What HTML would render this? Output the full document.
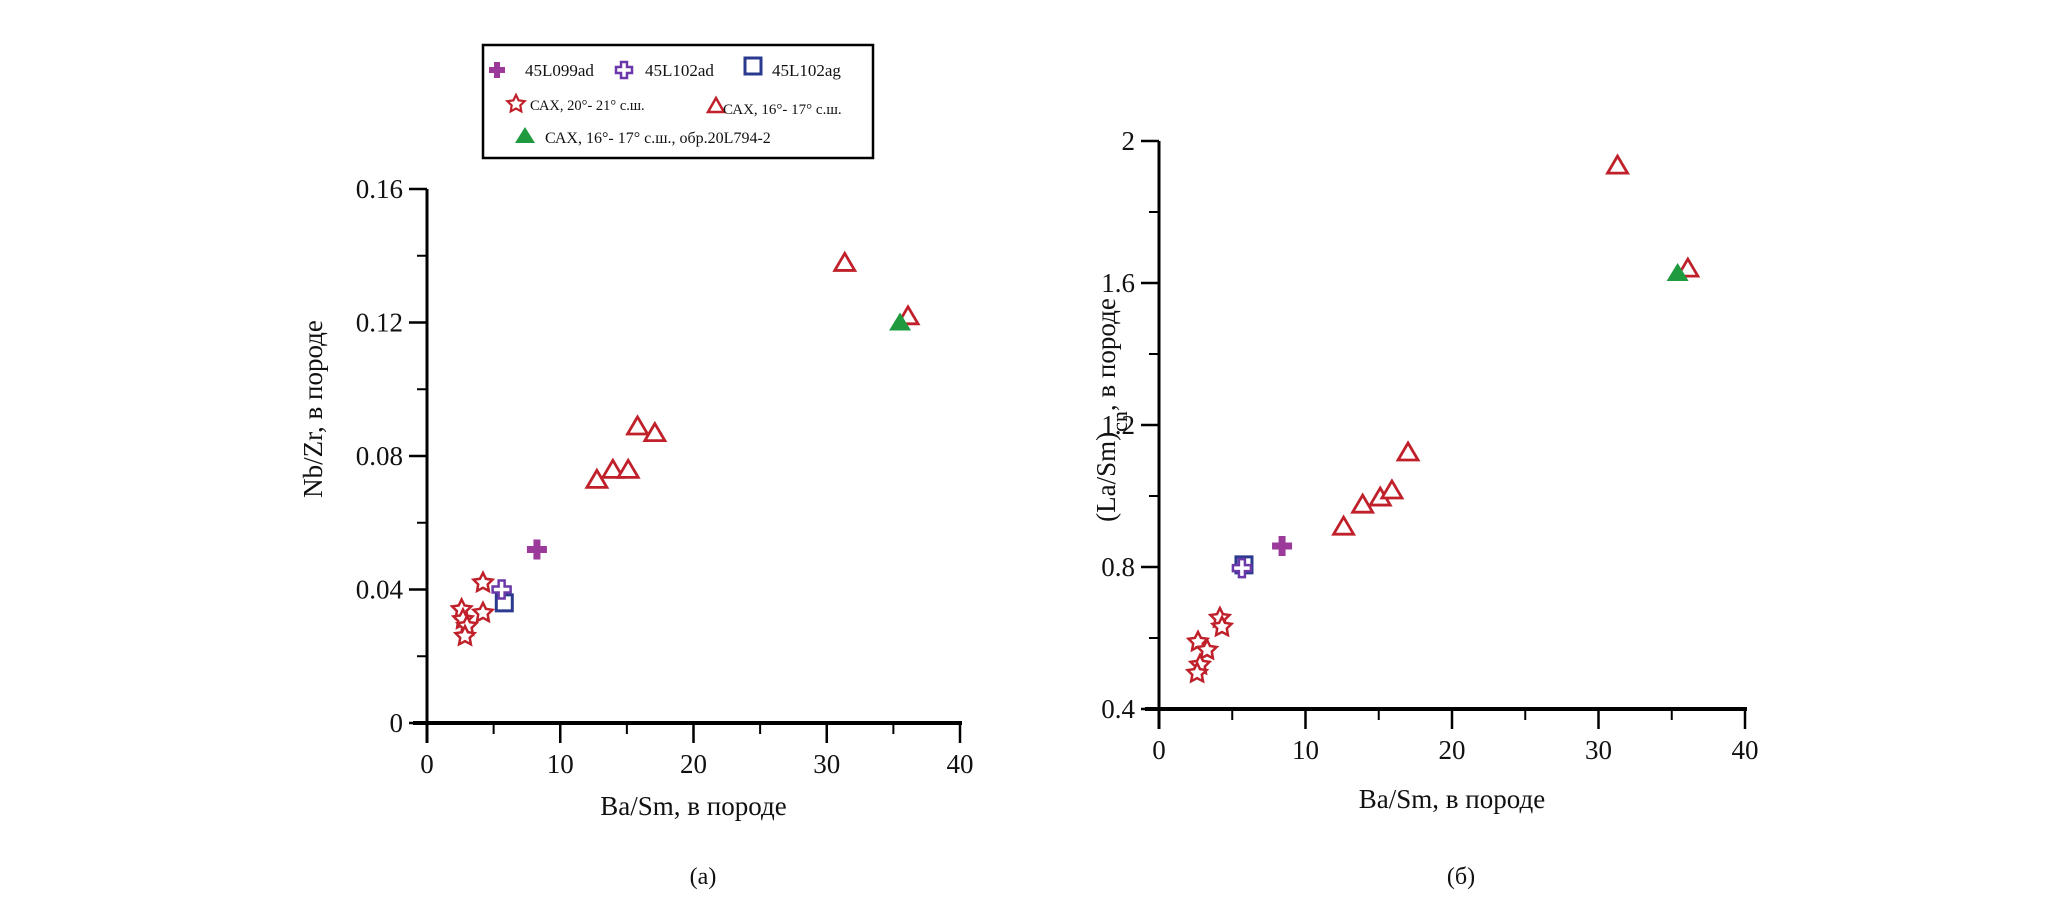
<!DOCTYPE html>
<html><head><meta charset="utf-8"><style>
html,body{margin:0;padding:0;background:#fff;}
svg{display:block;}
text{font-family:"Liberation Serif","DejaVu Serif",serif;fill:#111;}
</style></head><body>
<svg id="chart" width="2067" height="904" viewBox="0 0 2067 904" xmlns="http://www.w3.org/2000/svg">
<g id="legend">
<rect x="483" y="45" width="390" height="113" fill="#fff" stroke="#000" stroke-width="2.5"/>
<g><path d="M494,62h6v5h5v6h-5v5h-6v-5h-5v-6h5z" fill="#9b3a9b"/><text x="525" y="76" font-size="17">45L099ad</text></g>
<g><path d="M621,62h6v5h5v6h-5v5h-6v-5h-5v-6h5z" fill="#fff" stroke="#6a38a8" stroke-width="2.5"/><text x="645" y="76" font-size="17">45L102ad</text></g>
<g><rect x="745" y="58" width="16" height="16" fill="none" stroke="#2a3a8f" stroke-width="3"/><text x="772" y="76" font-size="17">45L102ag</text></g>
<g><path id="lstar" d="" fill="#fff" stroke="#c0202a" stroke-width="2.2"/><text x="530" y="110" font-size="14.5">САХ, 20°- 21° с.ш.</text></g>
<g><path d="M716,98l-8,14h16z" fill="#fff" stroke="#c0202a" stroke-width="2.5"/><text x="723" y="114" font-size="15">САХ, 16°- 17° с.ш.</text></g>
<g><path d="M525,127l-10,16h20z" fill="#1f9a3f"/><text x="545" y="143" font-size="16">САХ, 16°- 17° с.ш., обр.20L794-2</text></g>
</g>
<g id="pa"></g>
<g id="pb"></g>
<text x="703" y="884" font-size="24" text-anchor="middle">(a)</text>
<text x="1461" y="884" font-size="24" text-anchor="middle">(б)</text>
</svg>
<script>
// Panel (a): Nb/Zr vs Ba/Sm
const aStarX=[4.2,4.2,2.6,2.7,3.0,2.85];
const aStarY=[0.042,0.033,0.034,0.031,0.029,0.026];
const aTriX=[12.75,13.95,15.1,15.8,17.1,31.35,36.1];
const aTriY=[0.073,0.076,0.076,0.089,0.087,0.138,0.122];
const aGreenX=[35.5];const aGreenY=[0.120];
const aCrossX=[8.25];const aCrossY=[0.052];
const aHCrossX=[5.6];const aHCrossY=[0.040];
const aSqX=[5.8];const aSqY=[0.036];
const aYTicks=["0","0.04","0.08","0.12","0.16"];
const aYTickVals=[0,0.04,0.08,0.12,0.16];
// Panel (б): (La/Sm)cn vs Ba/Sm
const bStarX=[4.16,4.3,2.66,3.28,2.8,2.6];
const bStarY=[0.656,0.631,0.589,0.566,0.524,0.501];
const bTriX=[12.6,13.9,15.1,15.9,17.0,31.3,36.1];
const bTriY=[0.915,0.977,0.997,1.017,1.124,1.932,1.642];
const bGreenX=[35.4];const bGreenY=[1.628];
const bCrossX=[8.4];const bCrossY=[0.859];
const bHCrossX=[5.66];const bHCrossY=[0.797];
const bSqX=[5.8];const bSqY=[0.806];
const bYTicks=["0.4","0.8","1.2","1.6","2"];
const bYTickVals=[0.4,0.8,1.2,1.6,2.0];
const xTicks=["0","10","20","30","40"];
const xTickVals=[0,10,20,30,40];

const NS="http://www.w3.org/2000/svg";
function mk(t,a,p){const e=document.createElementNS(NS,t);for(const k in a)e.setAttribute(k,a[k]);p.appendChild(e);return e;}
function starPath(cx,cy,R,r){let d="";for(let i=0;i<10;i++){const a=-Math.PI/2+i*Math.PI/5;const rr=i%2?r:R;d+=(i?"L":"M")+(cx+rr*Math.cos(a)).toFixed(1)+","+(cy+rr*Math.sin(a)).toFixed(1);}return d+"Z";}
document.getElementById('lstar').setAttribute('d',starPath(516,104,9,4.5));

function panel(g,o){
  const sx=v=>o.x0+(v-0)/40*(o.x1-o.x0);
  const sy=v=>o.y0-(v-o.ymin)/(o.ymax-o.ymin)*(o.y0-o.y1);
  const ya=mk('line',{x1:sx(0),y1:o.y1,x2:sx(0),y2:o.y0+20,stroke:'#000','stroke-width':3},g);
  
  
  const xa=mk('line',{x1:sx(0)-14,y1:o.y0,x2:o.x1+2,y2:o.y0,stroke:'#000','stroke-width':4},g);
  
  
  const n=o.yvals.length;
  for(let i=0;i<n;i++){
    const y=sy(o.yvals[i]);
    const t=mk('line',{x1:sx(0)-18,y1:y,x2:sx(0),y2:y,stroke:'#000','stroke-width':2.5},g);
    
    
    const l=mk('text',{x:sx(0)-24,y:y+9,'font-size':27,'text-anchor':'end'},g);l.textContent=o.ylabels[i];
    
    
    if(i<n-1){const ym=sy((o.yvals[i]+o.yvals[i+1])/2);
      const m=mk('line',{x1:sx(0)-10,y1:ym,x2:sx(0),y2:ym,stroke:'#000','stroke-width':2},g);
      
      }
  }
  for(let i=0;i<xTickVals.length;i++){
    const x=sx(xTickVals[i]);
    const t=mk('line',{x1:x,y1:o.y0,x2:x,y2:o.y0+20,stroke:'#000','stroke-width':2.5},g);
    
    
    const l=mk('text',{x:x,y:o.y0+50,'font-size':27,'text-anchor':'middle'},g);l.textContent=xTicks[i];
    
    
    if(i<xTickVals.length-1){const xm=sx(xTickVals[i]+5);
      const m=mk('line',{x1:xm,y1:o.y0,x2:xm,y2:o.y0+11,stroke:'#000','stroke-width':2},g);
      
      }
  }
  const xt=mk('text',{x:(sx(0)+o.x1)/2,y:o.xtY,'font-size':27,'text-anchor':'middle'},g);xt.textContent='Ba/Sm, в породе';
  
  
  const yt=mk('text',{x:0,y:0,'font-size':27,'text-anchor':'middle',transform:`translate(${o.ytX},${o.ytY}) rotate(-90)`},g);
  yt.innerHTML=o.ytitle;
  
  
  const red='#c0202a';
  o.tri[0].forEach((v,i)=>{const x=sx(v),y=sy(o.tri[1][i]);
    const p=mk('path',{d:`M${x},${y-9}l-10,17h20z`,fill:'#fff',stroke:red,'stroke-width':2.8},g);
    
    });
  o.star[0].forEach((v,i)=>{const x=sx(v),y=sy(o.star[1][i]);
    const p=mk('path',{d:starPath(x,y,10,5),fill:'#fff',stroke:red,'stroke-width':2.5},g);
    
    });
  o.sq[0].forEach((v,i)=>{const x=sx(v),y=sy(o.sq[1][i]);
    const p=mk('rect',{x:x-8,y:y-8,width:16,height:16,fill:'#fff',stroke:'#2a3a8f','stroke-width':3},g);
    
    });
  o.hc[0].forEach((v,i)=>{const x=sx(v),y=sy(o.hc[1][i]);
    const p=mk('path',{d:`M${x-3},${y-9}h6v6h6v6h-6v6h-6v-6h-6v-6h6z`,fill:'#fff',stroke:'#6a38a8','stroke-width':2.5},g);
    
    });
  o.cr[0].forEach((v,i)=>{const x=sx(v),y=sy(o.cr[1][i]);
    const p=mk('path',{d:`M${x-3.5},${y-10}h7v6.5h6.5v7h-6.5v6.5h-7v-6.5h-6.5v-7h6.5z`,fill:'#9b3a9b'},g);
    
    });
  o.gr[0].forEach((v,i)=>{const x=sx(v),y=sy(o.gr[1][i]);
    const p=mk('path',{d:`M${x},${y-10}l-11,18h22z`,fill:'#1f9a3f'},g);
    
    });
}
panel(document.getElementById('pa'),{x0:427,x1:960,y0:723,y1:189,ymin:0,ymax:0.16,
  yvals:aYTickVals,ylabels:aYTicks,xtY:815,ytX:322,ytY:409,ytitle:'Nb/Zr, в породе',
  star:[aStarX,aStarY],tri:[aTriX,aTriY],gr:[aGreenX,aGreenY],cr:[aCrossX,aCrossY],hc:[aHCrossX,aHCrossY],sq:[aSqX,aSqY]});
panel(document.getElementById('pb'),{x0:1159,x1:1745,y0:709,y1:141,ymin:0.4,ymax:2.0,
  yvals:bYTickVals,ylabels:bYTicks,xtY:808,ytX:1115,ytY:410,ytitle:'(La/Sm)<tspan dy="12" font-size="22">cn</tspan><tspan dy="-12">, в породе</tspan>',
  star:[bStarX,bStarY],tri:[bTriX,bTriY],gr:[bGreenX,bGreenY],cr:[bCrossX,bCrossY],hc:[bHCrossX,bHCrossY],sq:[bSqX,bSqY]});
</script>
</body></html>
